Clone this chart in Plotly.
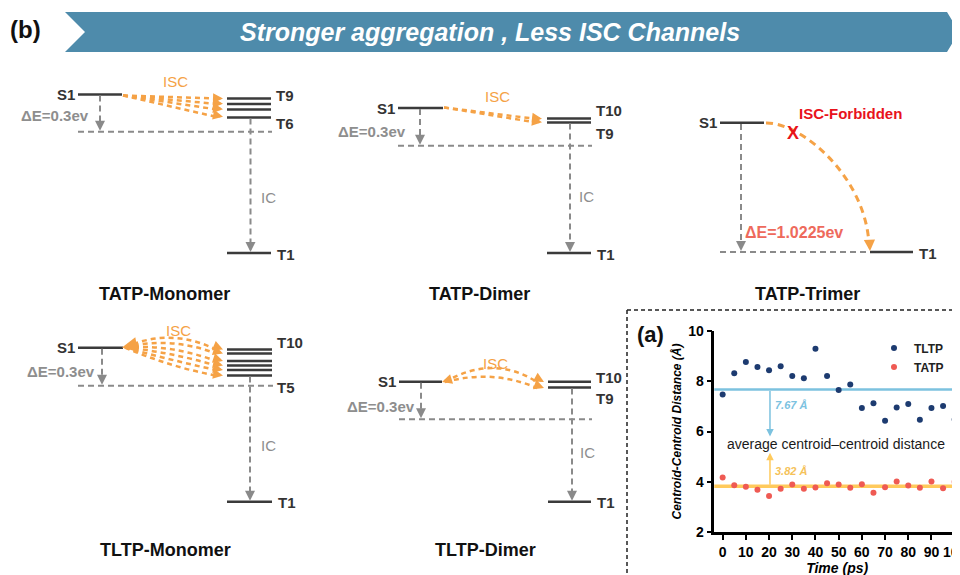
import math
import plotly.graph_objects as go

# ---------------- data (inset a) ----------------
time_ps = [0, 5, 10, 15, 20, 25, 30, 35, 40, 45, 50, 55, 60, 65, 70, 75, 80, 85, 90, 95, 100]
tltp_dist = [7.47, 8.32, 8.77, 8.57, 8.44, 8.60, 8.21, 8.12, 9.29, 8.21, 7.65,
             7.87, 6.94, 7.12, 6.43, 6.96, 7.09, 6.47, 6.94, 7.01, 6.48]
tatp_dist = [4.17, 3.86, 3.80, 3.68, 3.43, 3.72, 3.89, 3.72, 3.77, 3.94, 3.89,
             3.76, 3.90, 3.56, 3.78, 4.01, 3.85, 3.76, 4.01, 3.74, 4.00]
series_names = ["TLTP", "TATP"]
avg_values = [7.67, 3.82]
avg_labels = ["7.67 Å", "3.82 Å"]
x_ticks = [0, 10, 20, 30, 40, 50, 60, 70, 80, 90, 100]
y_ticks = [2, 4, 6, 8, 10]

# ---------------- diagram text ----------------
panel_titles = ["TATP-Monomer", "TATP-Dimer", "TATP-Trimer", "TLTP-Monomer", "TLTP-Dimer"]
banner_text = "Stronger aggregation , Less ISC Channels"

W, H = 960, 575
OFF = 8  # page body margin compensation (px)

FONT = "Liberation Sans, Arial, sans-serif"
C_LEVEL = "#3b3b3b"
C_LABEL = "#333333"
C_GREY = "#8a8a8a"
C_DE = "#8e8e8e"
C_ORANGE = "#f5a246"
C_BLUE = "#7cc2df"
C_YELLOW = "#ffca5c"
C_NAVY = "#1d3b70"
C_RED = "#ef5a53"

shapes = []
annotations = []


def line(x0, y0, x1, y1, color, width, dash="solid"):
    shapes.append(dict(type="line", xref="x", yref="y", x0=x0, y0=y0, x1=x1, y1=y1,
                       line=dict(color=color, width=width, dash=dash)))


def path(d, color, width, dash):
    shapes.append(dict(type="path", xref="x", yref="y", path=d,
                       line=dict(color=color, width=width, dash=dash)))


def head(xt, yt, xf, yf, color, size=1.0, width=2.0, xr="x", yr="y", tail=10):
    dx, dy = xt - xf, yt - yf
    L = math.hypot(dx, dy) or 1.0
    annotations.append(dict(xref=xr, yref=yr, axref=xr, ayref=yr, x=xt, y=yt,
                            ax=xt - dx / L * tail, ay=yt - dy / L * tail, text="",
                            showarrow=True, arrowhead=2, arrowsize=size,
                            arrowwidth=width, arrowcolor=color, standoff=0))


def text(x, y, s, size, color, anchor="center", xr="x", yr="y", yanchor="middle"):
    annotations.append(dict(xref=xr, yref=yr, x=x, y=y, text=s, showarrow=False,
                            xanchor=anchor, yanchor=yanchor,
                            font=dict(family=FONT, size=size, color=color)))


def level_panel(p):
    sx0, sx1, sy = p["s1"]
    tx0, tx1 = p["tx"]
    line(sx0, sy, sx1, sy, C_LEVEL, 2.5)
    text(sx0 - 1, sy, "<b>S1</b>", 15, C_LABEL, anchor="right")
    for ty in p["levels"]:
        line(tx0, ty, tx1, ty, C_LEVEL, 2.5)
    text(tx1 + 3, p["top_lab"][1], "<b>%s</b>" % p["top_lab"][0], 15, C_LABEL, anchor="left")
    text(tx1 + 3, p["bot_lab"][1], "<b>%s</b>" % p["bot_lab"][0], 15, C_LABEL, anchor="left")
    line(sx0, p["hy"], tx1 + 1, p["hy"], C_GREY, 2, "6px,4px")
    line(p["dex"], sy + 1, p["dex"], p["hy"] - 4, C_GREY, 2, "6px,4px")
    head(p["dex"], p["hy"] - 1, p["dex"], sy, C_GREY, 1.0, 2, tail=8)
    text(p["det"][0], p["det"][1], "<b>ΔE=0.3ev</b>", 15, C_DE, anchor="right")
    icx = p["icx"]
    line(icx, p["levels"][-1] + 1, icx, p["t1y"] - 4, C_GREY, 2, "6px,4px")
    head(icx, p["t1y"] - 1, icx, p["levels"][-1], C_GREY, 1.0, 2, tail=8)
    text(p["ict"][0], p["ict"][1], "IC", 15, C_DE, anchor="left")
    line(tx0, p["t1y"], tx1, p["t1y"], C_LEVEL, 2.5)
    text(tx1 + 4, p["t1y"] + 1, "<b>T1</b>", 15, C_LABEL, anchor="left")
    text(p["isct"][0], p["isct"][1], "ISC", 15, C_ORANGE)
    text(p["title"][0], p["title"][1], "<b>%s</b>" % p["name"], 18, "#111111")


panels = [
    dict(name=panel_titles[0], s1=(78, 122, 94.5), tx=(227, 271),
         levels=[98.5, 104, 109.5, 117.5], top_lab=("T9", 95), bot_lab=("T6", 123.5),
         hy=131.7, dex=100, det=(91, 115.5), icx=250.5, t1y=253, ict=(259, 197),
         isct=(175, 81), title=(164, 294)),
    dict(name=panel_titles[1], s1=(398, 443, 108), tx=(547, 591),
         levels=[118.5, 122.5], top_lab=("T10", 110), bot_lab=("T9", 133),
         hy=145.7, dex=420, det=(408, 131), icx=570, t1y=253, ict=(577, 196),
         isct=(497, 96), title=(479, 294)),
    dict(name=panel_titles[3], s1=(78, 123, 347.7), tx=(227, 272),
         levels=[349.5, 353.5, 361, 365.5, 370, 375.5], top_lab=("T10", 342), bot_lab=("T5", 387.5),
         hy=385.7, dex=102, det=(97, 371), icx=250, t1y=501.7, ict=(259, 445),
         isct=(178, 330), title=(165, 550)),
    dict(name=panel_titles[4], s1=(399, 442, 381.7), tx=(548, 591),
         levels=[381.7, 387.5], top_lab=("T10", 377), bot_lab=("T9", 398.5),
         hy=419.3, dex=421, det=(417, 406), icx=572, t1y=501.7, ict=(578, 452),
         isct=(495, 363), title=(485, 550)),
]
for p in panels:
    level_panel(p)

# ISC arrows: TATP-Monomer (straight fan)
for ye in [98.5, 103.8, 109.3, 116.8]:
    line(123, 95.5, 216, ye, C_ORANGE, 2.5, "5px,4px")
    head(223, ye, 123, 95.5, C_ORANGE, 0.8, 2.5)
# TATP-Dimer
for ye in [118.8, 122.3]:
    line(444, 107.5, 535, ye, C_ORANGE, 2.5, "5px,4px")
    head(542, ye, 444, 107.5, C_ORANGE, 0.8, 2.5)
# TLTP-Monomer (arcs)
for ye, cy in [(349.5, 327), (353.5, 336), (361, 344), (365.5, 352), (370, 360), (375.5, 367)]:
    path("M 125,347.5 Q 170,%s 216,%s" % (cy, ye), C_ORANGE, 2.5, "5px,4px")
    head(223, ye, 170, cy, C_ORANGE, 0.8, 2.5)
head(122, 347.5, 140, 344, C_ORANGE, 1.0, 3)
# TLTP-Dimer (arcs)
for ye, cy in [(382, 354), (388, 369)]:
    path("M 445,382 Q 493,%s 537,%s" % (cy, ye), C_ORANGE, 2.5, "5px,4px")
    head(544, ye, 493, cy, C_ORANGE, 0.8, 2.5)
head(442, 382, 455, 378, C_ORANGE, 0.8, 2.5)

# TATP-Trimer
line(720, 122.7, 764, 122.7, C_LEVEL, 2.5)
text(719, 122.7, "<b>S1</b>", 15, C_LABEL, anchor="right")
line(741, 124, 741, 246, C_GREY, 2, "6px,4px")
head(741, 251, 741, 124, C_GREY, 1.0, 2, tail=8)
line(720, 252, 870, 252, C_GREY, 2, "6px,4px")
line(870, 252, 913, 252, C_LEVEL, 2.5)
text(917, 253, "<b>T1</b>", 15, C_LABEL, anchor="left")
path("M 766,123 C 800,122 865,175 869,244", C_ORANGE, 3, "7px,5px")
head(870, 251, 866, 175, C_ORANGE, 0.9, 2.5)
text(793, 133, "<b>X</b>", 18, "#e8121b")
text(850, 113, "<b>ISC-Forbidden</b>", 15, "#e8121b")
text(794, 232, "<b>ΔE=1.0225ev</b>", 16, "#ee6a5c")
text(807, 294, "<b>%s</b>" % panel_titles[2], 18, "#111111")

# banner
shapes.append(dict(type="path", xref="x", yref="y",
                   path="M 65,12 L 947,12 L 959,32 L 947,52 L 65,52 L 85,32 Z",
                   fillcolor="#4e8bab", line=dict(width=0), layer="below"))
text(490, 32, "<b><i>%s</i></b>" % banner_text, 25, "white")
text(25, 29, "<b>(b)</b>", 24, "#111111")

# dashed box around inset
line(627, 310, 957, 310, "#222222", 1.5, "4px,3px")
line(627, 310, 627, 580, "#222222", 1.5, "4px,3px")
text(650, 334, "<b>(a)</b>", 22, "#111111")

# ---------------- inset scatter ----------------
fig = go.Figure()
fig.add_trace(go.Scatter(x=[OFF, W + OFF], y=[OFF, H + OFF], mode="markers", marker=dict(opacity=0),
                         showlegend=False, hoverinfo="skip", xaxis="x", yaxis="y"))
fig.add_trace(go.Scatter(x=time_ps, y=tltp_dist, mode="markers", name=series_names[0],
                         marker=dict(color=C_NAVY, size=6), xaxis="x2", yaxis="y2"))
fig.add_trace(go.Scatter(x=time_ps, y=tatp_dist, mode="markers", name=series_names[1],
                         marker=dict(color=C_RED, size=6), xaxis="x2", yaxis="y2"))

for val, col, w in [(avg_values[0], C_BLUE, 2.5), (avg_values[1], C_YELLOW, 3.5)]:
    shapes.append(dict(type="line", xref="x2 domain", yref="y2", x0=0, x1=1, y0=val, y1=val,
                       line=dict(color=col, width=w), layer="below"))

arrow_x = 20.4
annotations.append(dict(xref="x2", yref="y2", axref="x2", ayref="y2", x=arrow_x, y=5.8,
                        ax=arrow_x, ay=avg_values[0], text="", showarrow=True, arrowhead=2,
                        arrowsize=1, arrowwidth=1.5, arrowcolor=C_BLUE, standoff=0))
annotations.append(dict(xref="x2", yref="y2", axref="x2", ayref="y2", x=arrow_x, y=5.15,
                        ax=arrow_x, ay=avg_values[1], text="", showarrow=True, arrowhead=2,
                        arrowsize=1, arrowwidth=1.5, arrowcolor=C_YELLOW, standoff=0))
text(arrow_x + 1.3, 7.05, "<b><i>%s</i></b>" % avg_labels[0], 11, C_BLUE, anchor="left", xr="x2", yr="y2")
text(arrow_x + 1.3, 4.42, "<b><i>%s</i></b>" % avg_labels[1], 11, "#f5c25a", anchor="left", xr="x2", yr="y2")
text(48.8, 5.5, "average centroid–centroid distance", 14, "#1a1a1a", xr="x2", yr="y2")

axis_common = dict(showline=True, linecolor="black", linewidth=2.5, ticks="outside",
                   ticklen=5, tickwidth=2, tickcolor="black", showgrid=False, zeroline=False,
                   automargin=False,
                   tickfont=dict(family=FONT, size=14, color="black", weight="bold"))

# inset placement in screen pixels, converted to figure fractions
ax_left, ax_right, ax_top, ax_bottom = 714.3, 960.0, 331.0, 532.0

fig.update_layout(
    width=W, height=H,
    margin=dict(l=0, r=0, t=0, b=0, pad=0, autoexpand=False),
    paper_bgcolor="white", plot_bgcolor="rgba(0,0,0,0)",
    xaxis=dict(domain=[0, 1], range=[OFF, W + OFF], visible=False, fixedrange=True, automargin=False),
    yaxis=dict(domain=[0, 1], range=[H + OFF, OFF], visible=False, fixedrange=True, automargin=False),
    xaxis2=dict(domain=[(ax_left - OFF) / W, (ax_right - OFF) / W], range=[-3.6, 102.3], anchor="y2",
                tickvals=x_ticks, ticktext=[str(v) for v in x_ticks],
                title=dict(text="<b><i>Time (ps)</i></b>", standoff=4,
                           font=dict(family=FONT, size=14, color="black")),
                **axis_common),
    yaxis2=dict(domain=[(H - (ax_bottom - OFF)) / H, (H - (ax_top - OFF)) / H], range=[2, 10], anchor="x2",
                tickvals=y_ticks, ticktext=[str(v) for v in y_ticks],
                title=dict(text="<b><i>Centroid-Centroid Distance (Å)</i></b>", standoff=4,
                           font=dict(family=FONT, size=12, color="black")),
                **axis_common),
    showlegend=True,
    legend=dict(x=(874 - OFF) / W, y=1 - (333.6 - OFF) / H, xanchor="left", yanchor="top",
                bgcolor="rgba(0,0,0,0)", itemwidth=30, tracegroupgap=0,
                font=dict(family=FONT, size=12, color="#222222", weight="bold")),
    shapes=shapes,
    annotations=annotations,
)

fig.write_html("out.html")
